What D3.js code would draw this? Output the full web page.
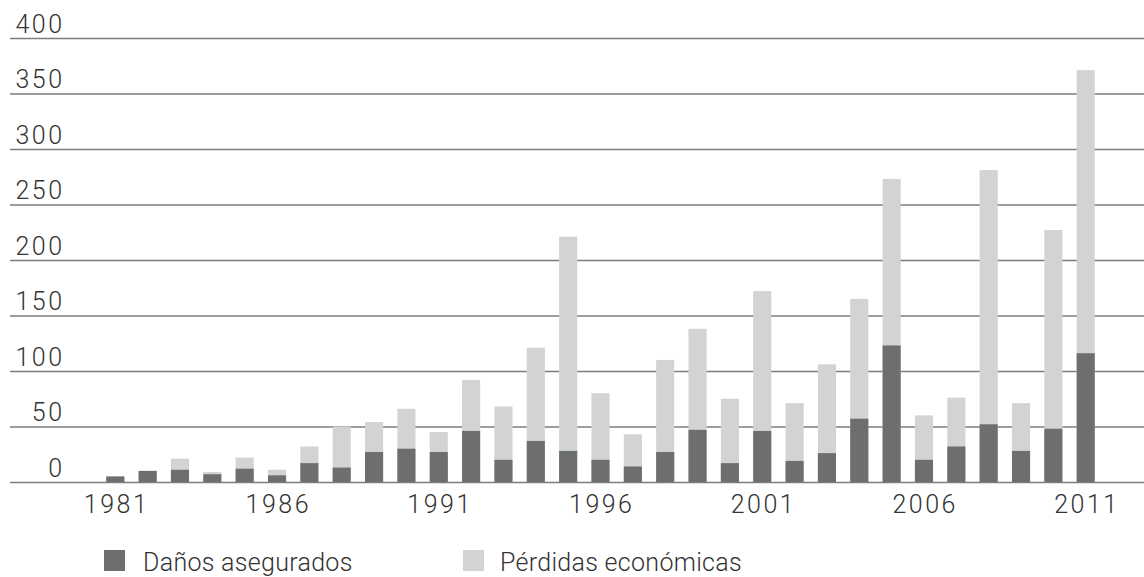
<!DOCTYPE html>
<html>
  <head>
    <script src="https://d3js.org/d3.v7.min.js"></script>
    <style>
      body { margin: 0; background: #fff; }
      text { font-family: Roboto, "Liberation Sans", sans-serif; font-weight: 300; fill: #333; }
    </style>
  </head>
  <body>
    <div id="graph"></div>
    <script>
var w = 1144;
var h = 577;

// data (USD bn)
var years = d3.range(1981, 2012);
var insured = [5, 10, 11, 7, 12, 6, 17, 13, 27, 30, 27, 46, 20, 37, 28, 20, 14, 27, 47, 17, 46, 19, 26, 57, 123, 20, 32, 52, 28, 48, 116];
var economic = [5, 10, 21, 9, 22, 11, 32, 50, 54, 66, 45, 92, 68, 121, 221, 80, 43, 110, 138, 75, 172, 71, 106, 165, 273, 60, 76, 281, 71, 227, 371];
var yTicks = [0, 50, 100, 150, 200, 250, 300, 350, 400];
var xTicks = [1981, 1986, 1991, 1996, 2001, 2006, 2011];

var dark = "#6d6e70";
var light = "#d1d3d4";
var ls = 2.5; // letter spacing for the numbers

var svg = d3.select("#graph")
  .append("svg")
  .attr("width", w)
  .attr("height", h);

var x = d3.scaleBand()
  .domain(years)
  .range([92, 1109])
  .padding(0.44);

var y = d3.scaleLinear()
  .domain([0, 400])
  .range([482, 38]);

// gridlines + y labels
var yAxis = svg.append("g")
  .attr("transform", "translate(10,0)")
  .call(d3.axisLeft(y).tickValues(yTicks).tickSize(-1134).tickSizeOuter(0));
yAxis.select(".domain").remove();
yAxis.selectAll(".tick line")
  .attr("stroke", "#7d7d7d")
  .attr("stroke-width", 1.5);
yAxis.selectAll(".tick text")
  .attr("x", 52 + ls)
  .attr("y", -6)
  .attr("dy", 0)
  .attr("text-anchor", "end")
  .attr("font-size", "25px")
  .style("letter-spacing", ls + "px");

// economic losses (total) behind, insured in front
svg.selectAll("rect.eco")
  .data(economic)
  .enter()
  .append("rect")
  .attr("class", "eco")
  .attr("x", function(d, i) { return x(years[i]); })
  .attr("y", function(d) { return y(d); })
  .attr("width", x.bandwidth())
  .attr("height", function(d) { return y(0) - y(d); })
  .attr("fill", light);

svg.selectAll("rect.ins")
  .data(insured)
  .enter()
  .append("rect")
  .attr("class", "ins")
  .attr("x", function(d, i) { return x(years[i]); })
  .attr("y", function(d) { return y(d); })
  .attr("width", x.bandwidth())
  .attr("height", function(d) { return y(0) - y(d); })
  .attr("fill", dark);

// x labels
var xAxis = svg.append("g")
  .attr("transform", "translate(0,482)")
  .call(d3.axisBottom(x).tickValues(xTicks).tickSize(0));
xAxis.select(".domain").remove();
xAxis.selectAll(".tick text")
  .attr("y", 31)
  .attr("dy", 0)
  .attr("dx", ls / 2)
  .attr("font-size", "25px")
  .style("letter-spacing", ls + "px");

// legend
var legend = [
  { label: "Daños asegurados", color: dark, x: 104 },
  { label: "Pérdidas económicas", color: light, x: 463 }
];
var lg = svg.selectAll("g.legend")
  .data(legend)
  .enter()
  .append("g")
  .attr("class", "legend")
  .attr("transform", function(d) { return "translate(" + d.x + ",550)"; });
lg.append("rect")
  .attr("width", 21)
  .attr("height", 21)
  .attr("fill", function(d) { return d.color; });
lg.append("text")
  .attr("x", function(d, i) { return i === 0 ? 39 : 37; })
  .attr("y", 21)
  .attr("font-size", "25px")
  .style("letter-spacing", "0.3px")
  .text(function(d) { return d.label; });
    </script>
  </body>
</html>
